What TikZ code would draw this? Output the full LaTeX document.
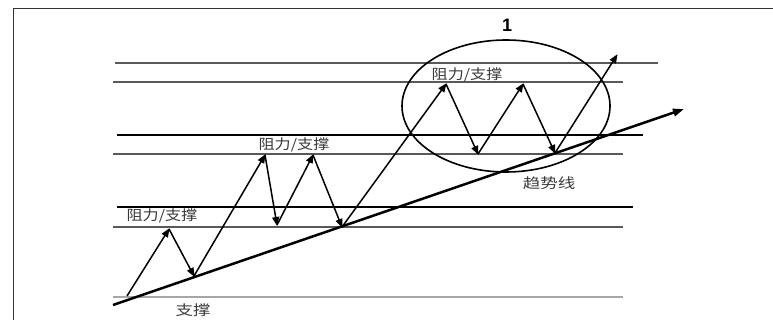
\documentclass[tikz,border=0pt]{standalone}
\usepackage{fontspec}
\newfontfamily\cjk{Noto Sans CJK SC}
\setsansfont{Liberation Sans}
\usetikzlibrary{arrows.meta}
\definecolor{lbl}{HTML}{3A3A3A}
\tikzset{
  thinln/.style={draw=black!65, line width=1.1pt},
  thickln/.style={draw=black, line width=1.8pt},
  pale/.style={draw=black!35, line width=1.1pt},
  move/.style={draw=black, line width=1.5pt, -{Triangle[length=9pt,width=7pt]}, shorten >=-1pt},
  trend/.style={draw=black, line width=2.5pt, -{Triangle[length=11pt,width=7.5pt]}},
  lab/.style={text=lbl, inner sep=0pt, font=\cjk\fontsize{14}{15}\selectfont},
}
\begin{document}
\begin{tikzpicture}[x=1pt,y=-1pt]
\useasboundingbox (0,0) rectangle (773,320);
\fill[white] (0,0) rectangle (773,320);
% frame
\draw[black!80, line width=0.9pt] (13,320) -- (13,8) -- (773,8);
% horizontal levels
\draw[thinln] (115,63) -- (658,63);
\draw[thinln] (113,82) -- (623,82);
\draw[thickln] (117,135) -- (643,135);
\draw[thinln] (113,154) -- (623,154);
\draw[thickln] (117,207) -- (633,207);
\draw[thinln] (113,227) -- (623,227);
\draw[pale] (113,297) -- (623,297);
% ellipse
\draw[black, line width=1.6pt] (506,106) ellipse [x radius=104, y radius=66];
% trend line
\coordinate (t0) at (113,305);
\coordinate (t1) at (684,109);
\draw[trend] (t0) -- (t1);
% zigzag points
\coordinate (p0) at (127,296);
\coordinate (p1) at (169,229);
\coordinate (p2) at (194,276);
\coordinate (p3) at (265,155);
\coordinate (p4) at (277,225);
\coordinate (p5) at (313,155);
\coordinate (p6) at (342,227);
\coordinate (p7) at (446,84);
\coordinate (p8) at (478,154);
\coordinate (p9) at (523,84);
\coordinate (p10) at (555,153);
\coordinate (p11) at (617,55);
\foreach \a/\b in {p0/p1,p1/p2,p2/p3,p3/p4,p4/p5,p5/p6,p6/p7,p7/p8,p8/p9,p9/p10,p10/p11}
  \draw[move] (\a) -- (\b);
% labels
\node[lab] (l1) at (162,216) {\scalebox{1.15}[1]{阻力/支撑}};
\node[lab] (l2) at (294,145) {\scalebox{1.15}[1]{阻力/支撑}};
\node[lab] (l3) at (467,75) {\scalebox{1.15}[1]{阻力/支撑}};
\node[lab] (l4) at (193,310) {\scalebox{1.25}[1]{支撑}};
\node[lab] (l5) at (549,183) {\scalebox{1.25}[1]{趋势线}};
\node[inner sep=0pt, font=\sffamily\bfseries\fontsize{18}{19}\selectfont] (n1) at (507,25) {1};
\end{tikzpicture}
\end{document}
